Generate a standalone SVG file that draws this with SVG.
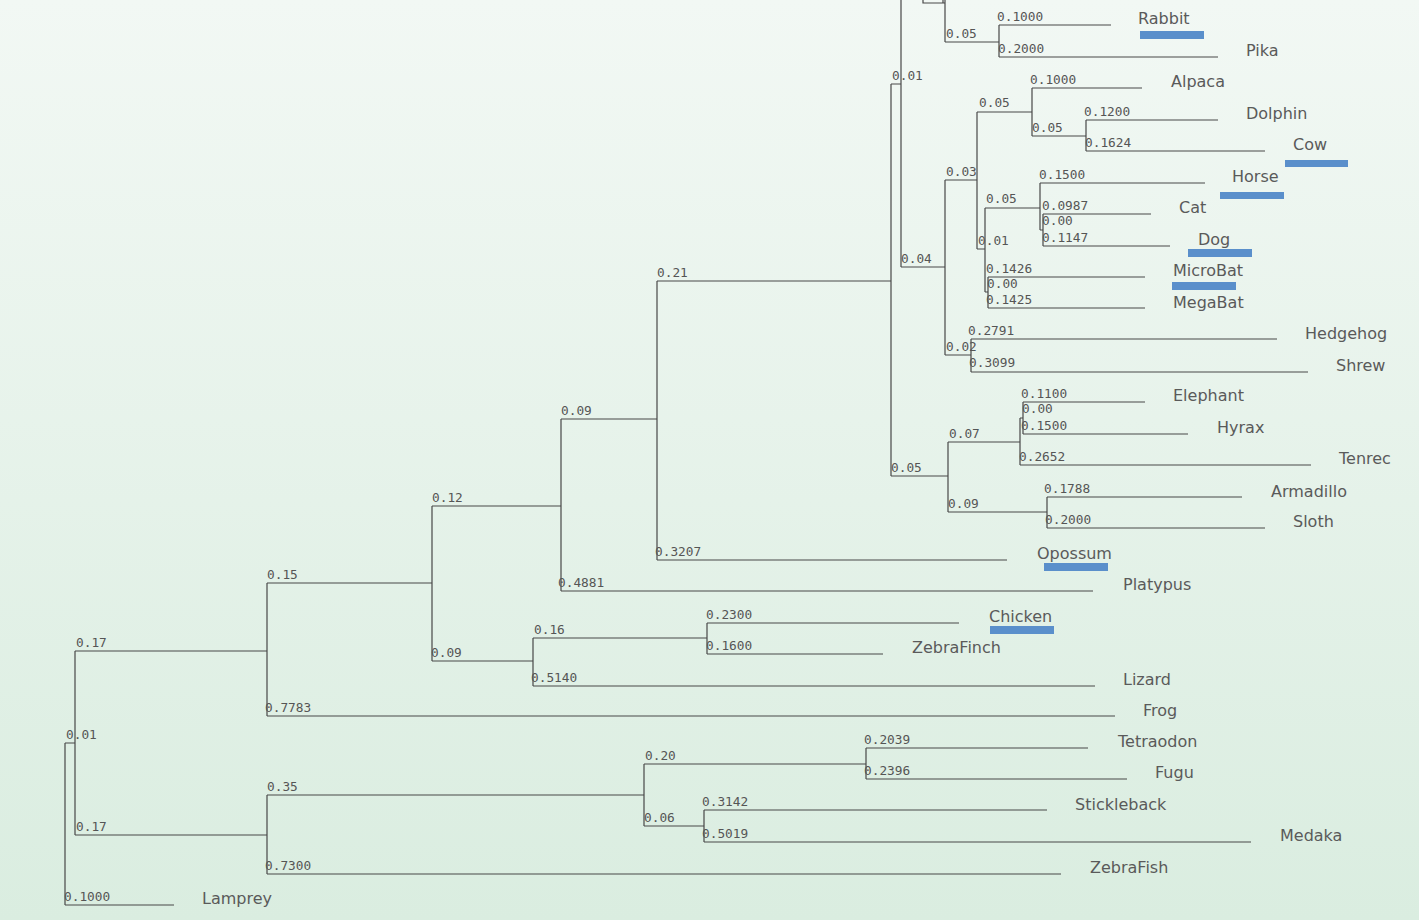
<svg xmlns="http://www.w3.org/2000/svg" width="1419" height="920" viewBox="0 0 1419 920">
<defs>
<linearGradient id="bg" x1="0" y1="0" x2="0" y2="1">
<stop offset="0" stop-color="#f2f8f4"/>
<stop offset="1" stop-color="#daede0"/>
</linearGradient>
<style>
.e{fill:none;stroke:#484848;stroke-width:1.2}
.b{font-family:"DejaVu Sans Mono",monospace;font-size:12.8px;fill:#555}
.t{font-family:"DejaVu Sans",sans-serif;font-size:16px;fill:#5a5a5a}
.m{fill:#5a8fcb}
</style>
</defs>
<rect width="1419" height="920" fill="url(#bg)"/>
<g id="connectors">
<path class="e" d="M65,743V905M65,743H75M65,905H174"/>
<path class="e" d="M75,651V835M75,651H267M75,835H267"/>
<path class="e" d="M267,583V716M267,583H432M267,716H1115"/>
<path class="e" d="M432,506V661M432,506H561M432,661H533"/>
<path class="e" d="M561,419V591M561,419H657M561,591H1093"/>
<path class="e" d="M657,281V560M657,281H891M657,560H1007"/>
<path class="e" d="M891,84V476M891,84H901M891,476H948"/>
<path class="e" d="M901,0V267M901,267H945"/>
<path class="e" d="M923,0V3H945M943,0V3"/>
<path class="e" d="M945,0V42M945,42H999"/>
<path class="e" d="M999,25V57M999,25H1111M999,57H1218"/>
<path class="e" d="M945,180V355M945,180H977M945,355H971"/>
<path class="e" d="M977,112V249M977,112H1032M977,249H985"/>
<path class="e" d="M1032,88V136M1032,88H1142M1032,136H1086"/>
<path class="e" d="M1086,120V151M1086,120H1218M1086,151H1265"/>
<path class="e" d="M985,208V292M985,208H1040M985,292H988"/>
<path class="e" d="M1040,183V230M1040,183H1205M1040,230H1043"/>
<path class="e" d="M1043,214V246M1043,214H1151M1043,246H1170"/>
<path class="e" d="M988,277V308M988,277H1145M988,308H1145"/>
<path class="e" d="M971,339V372M971,339H1277M971,372H1308"/>
<path class="e" d="M948,442V512M948,442H1020M948,512H1047"/>
<path class="e" d="M1020,418V465M1020,418H1023M1020,465H1311"/>
<path class="e" d="M1023,402V434M1023,402H1145M1023,434H1188"/>
<path class="e" d="M1047,497V528M1047,497H1242M1047,528H1265"/>
<path class="e" d="M533,638V686M533,638H707M533,686H1095"/>
<path class="e" d="M707,623V654M707,623H959M707,654H883"/>
<path class="e" d="M267,795V874M267,795H644M267,874H1061"/>
<path class="e" d="M644,764V826M644,764H866M644,826H704"/>
<path class="e" d="M866,748V779M866,748H1088M866,779H1127"/>
<path class="e" d="M704,810V842M704,810H1047M704,842H1251"/>
</g>
<g id="branch-labels">
<text class="b" x="64" y="901">0.1000</text>
<text class="b" x="66" y="739">0.01</text>
<text class="b" x="76" y="647">0.17</text>
<text class="b" x="76" y="831">0.17</text>
<text class="b" x="267" y="579">0.15</text>
<text class="b" x="265" y="712">0.7783</text>
<text class="b" x="267" y="791">0.35</text>
<text class="b" x="265" y="870">0.7300</text>
<text class="b" x="432" y="502">0.12</text>
<text class="b" x="431" y="657">0.09</text>
<text class="b" x="561" y="415">0.09</text>
<text class="b" x="558" y="587">0.4881</text>
<text class="b" x="657" y="277">0.21</text>
<text class="b" x="655" y="556">0.3207</text>
<text class="b" x="534" y="634">0.16</text>
<text class="b" x="531" y="682">0.5140</text>
<text class="b" x="706" y="619">0.2300</text>
<text class="b" x="706" y="650">0.1600</text>
<text class="b" x="645" y="760">0.20</text>
<text class="b" x="644" y="822">0.06</text>
<text class="b" x="864" y="744">0.2039</text>
<text class="b" x="864" y="775">0.2396</text>
<text class="b" x="702" y="806">0.3142</text>
<text class="b" x="702" y="838">0.5019</text>
<text class="b" x="892" y="80">0.01</text>
<text class="b" x="891" y="472">0.05</text>
<text class="b" x="901" y="263">0.04</text>
<text class="b" x="946" y="38">0.05</text>
<text class="b" x="997" y="21">0.1000</text>
<text class="b" x="998" y="53">0.2000</text>
<text class="b" x="946" y="176">0.03</text>
<text class="b" x="946" y="351">0.02</text>
<text class="b" x="979" y="107">0.05</text>
<text class="b" x="978" y="245">0.01</text>
<text class="b" x="1030" y="84">0.1000</text>
<text class="b" x="1032" y="132">0.05</text>
<text class="b" x="1084" y="116">0.1200</text>
<text class="b" x="1085" y="147">0.1624</text>
<text class="b" x="986" y="203">0.05</text>
<text class="b" x="987" y="288">0.00</text>
<text class="b" x="1039" y="179">0.1500</text>
<text class="b" x="1042" y="225">0.00</text>
<text class="b" x="1042" y="210">0.0987</text>
<text class="b" x="1042" y="242">0.1147</text>
<text class="b" x="986" y="273">0.1426</text>
<text class="b" x="986" y="304">0.1425</text>
<text class="b" x="968" y="335">0.2791</text>
<text class="b" x="969" y="367">0.3099</text>
<text class="b" x="949" y="438">0.07</text>
<text class="b" x="948" y="508">0.09</text>
<text class="b" x="1022" y="413">0.00</text>
<text class="b" x="1021" y="398">0.1100</text>
<text class="b" x="1021" y="430">0.1500</text>
<text class="b" x="1019" y="461">0.2652</text>
<text class="b" x="1044" y="493">0.1788</text>
<text class="b" x="1045" y="524">0.2000</text>
</g>
<g id="rabbit"><text class="t" x="1138" y="24">Rabbit</text><rect class="m" x="1140" y="31" width="64" height="8"/></g>
<g id="pika"><text class="t" x="1246" y="56">Pika</text></g>
<g id="alpaca"><text class="t" x="1171" y="87">Alpaca</text></g>
<g id="dolphin"><text class="t" x="1246" y="119">Dolphin</text></g>
<g id="cow"><text class="t" x="1293" y="150">Cow</text><rect class="m" x="1285" y="160" width="63" height="7"/></g>
<g id="horse"><text class="t" x="1232" y="182">Horse</text><rect class="m" x="1220" y="192" width="64" height="7"/></g>
<g id="cat"><text class="t" x="1179" y="213">Cat</text></g>
<g id="dog"><text class="t" x="1198" y="245">Dog</text><rect class="m" x="1188" y="249" width="64" height="8"/></g>
<g id="microbat"><text class="t" x="1173" y="276">MicroBat</text><rect class="m" x="1172" y="282" width="64" height="8"/></g>
<g id="megabat"><text class="t" x="1173" y="308">MegaBat</text></g>
<g id="hedgehog"><text class="t" x="1305" y="339">Hedgehog</text></g>
<g id="shrew"><text class="t" x="1336" y="371">Shrew</text></g>
<g id="elephant"><text class="t" x="1173" y="401">Elephant</text></g>
<g id="hyrax"><text class="t" x="1217" y="433">Hyrax</text></g>
<g id="tenrec"><text class="t" x="1339" y="464">Tenrec</text></g>
<g id="armadillo"><text class="t" x="1271" y="497">Armadillo</text></g>
<g id="sloth"><text class="t" x="1293" y="527">Sloth</text></g>
<g id="opossum"><text class="t" x="1037" y="559">Opossum</text><rect class="m" x="1044" y="563" width="64" height="8"/></g>
<g id="platypus"><text class="t" x="1123" y="590">Platypus</text></g>
<g id="chicken"><text class="t" x="989" y="622">Chicken</text><rect class="m" x="990" y="626" width="64" height="8"/></g>
<g id="zebrafinch"><text class="t" x="912" y="653">ZebraFinch</text></g>
<g id="lizard"><text class="t" x="1123" y="685">Lizard</text></g>
<g id="frog"><text class="t" x="1143" y="716">Frog</text></g>
<g id="tetraodon"><text class="t" x="1118" y="747">Tetraodon</text></g>
<g id="fugu"><text class="t" x="1155" y="778">Fugu</text></g>
<g id="stickleback"><text class="t" x="1075" y="810">Stickleback</text></g>
<g id="medaka"><text class="t" x="1280" y="841">Medaka</text></g>
<g id="zebrafish"><text class="t" x="1090" y="873">ZebraFish</text></g>
<g id="lamprey"><text class="t" x="202" y="904">Lamprey</text></g>
</svg>
